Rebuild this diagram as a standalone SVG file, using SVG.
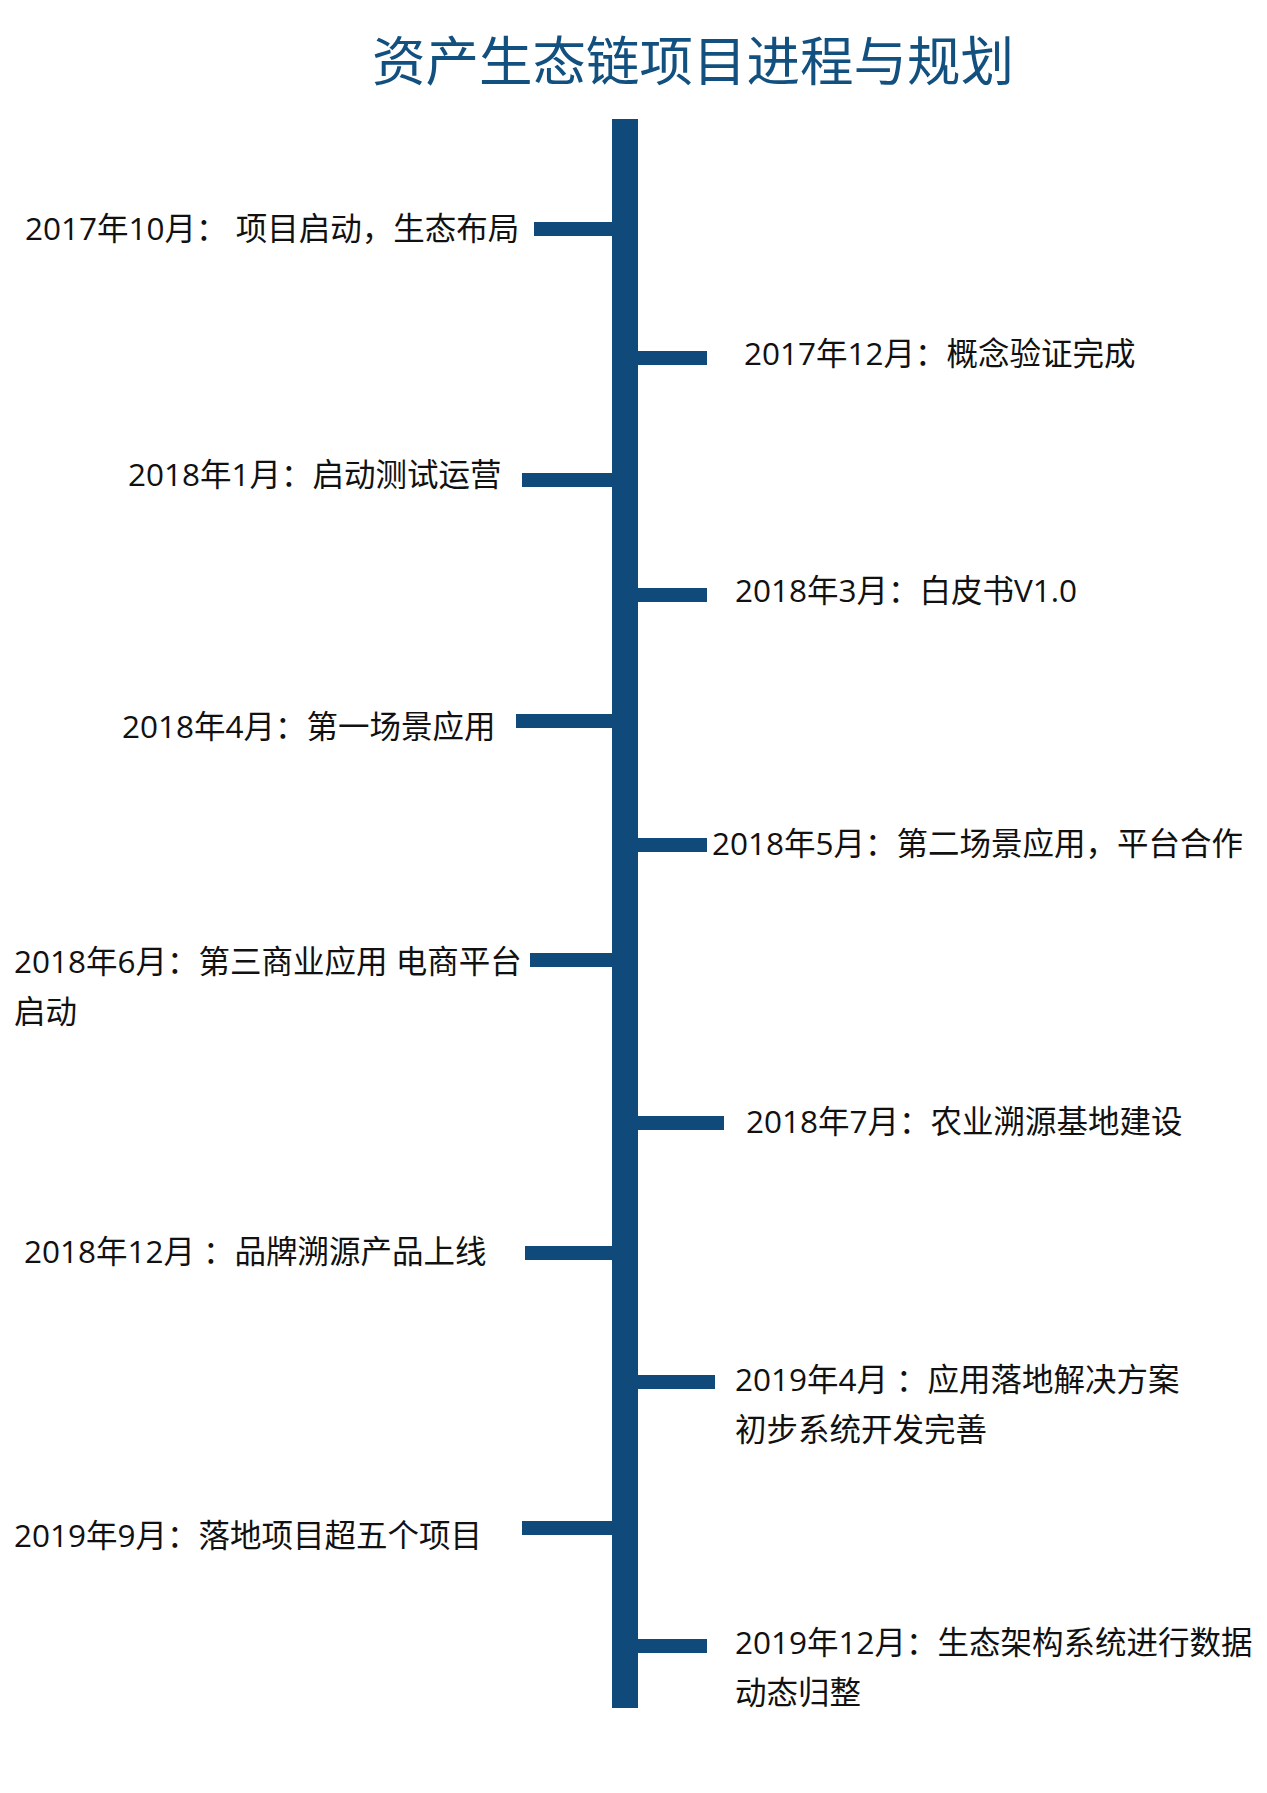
<svg xmlns="http://www.w3.org/2000/svg" width="1267" height="1793" viewBox="0 0 1267 1793">
<style>
.t{font-family:"Open Sans","Noto Sans CJK SC",sans-serif;font-size:31.5px;fill:#111}
.title{font-family:"Noto Sans CJK SC",sans-serif;font-size:53.5px;fill:#12507f}
.ln{fill:#0f4a7a}
</style>
<rect width="1267" height="1793" fill="#fff"/>
<g id="title"><text class="title" x="372" y="81">资产生态链项目进程与规划</text></g>
<g id="connectors">
<rect class="ln" x="612" y="119" width="26" height="1589"/>
<rect class="ln" x="534" y="222" width="78" height="14"/>
<rect class="ln" x="638" y="351" width="69" height="14"/>
<rect class="ln" x="522" y="473" width="90" height="14"/>
<rect class="ln" x="638" y="588" width="69" height="14"/>
<rect class="ln" x="516" y="714" width="96" height="14"/>
<rect class="ln" x="638" y="838" width="69" height="14"/>
<rect class="ln" x="530" y="953" width="82" height="14"/>
<rect class="ln" x="638" y="1116" width="86" height="14"/>
<rect class="ln" x="525" y="1246" width="87" height="14"/>
<rect class="ln" x="638" y="1375" width="77" height="14"/>
<rect class="ln" x="522" y="1521" width="90" height="14"/>
<rect class="ln" x="638" y="1639" width="69" height="14"/>
</g>
<g id="n1"><text class="t" x="25" y="240">2017年10月： 项目启动，生态布局</text></g>
<g id="n2"><text class="t" x="744" y="365">2017年12月：概念验证完成</text></g>
<g id="n3"><text class="t" x="128" y="486">2018年1月：启动测试运营</text></g>
<g id="n4"><text class="t" x="735" y="602">2018年3月：白皮书V1.0</text></g>
<g id="n5"><text class="t" x="122" y="738">2018年4月：第一场景应用</text></g>
<g id="n6"><text class="t" x="712" y="855">2018年5月：第二场景应用，平台合作</text></g>
<g id="n7"><text class="t" x="14" y="973">2018年6月：第三商业应用 电商平台</text><text class="t" x="14" y="1023">启动</text></g>
<g id="n8"><text class="t" x="746" y="1133">2018年7月：农业溯源基地建设</text></g>
<g id="n9"><text class="t" x="24" y="1263">2018年12月<tspan dx="8">：品牌溯源产品上线</tspan></text></g>
<g id="n10"><text class="t" x="735" y="1391">2019年4月<tspan dx="8">：应用落地解决方案</tspan></text><text class="t" x="735" y="1441">初步系统开发完善</text></g>
<g id="n11"><text class="t" x="14" y="1547">2019年9月：落地项目超五个项目</text></g>
<g id="n12"><text class="t" x="735" y="1654">2019年12月：生态架构系统进行数据</text><text class="t" x="735" y="1704">动态归整</text></g>
</svg>
